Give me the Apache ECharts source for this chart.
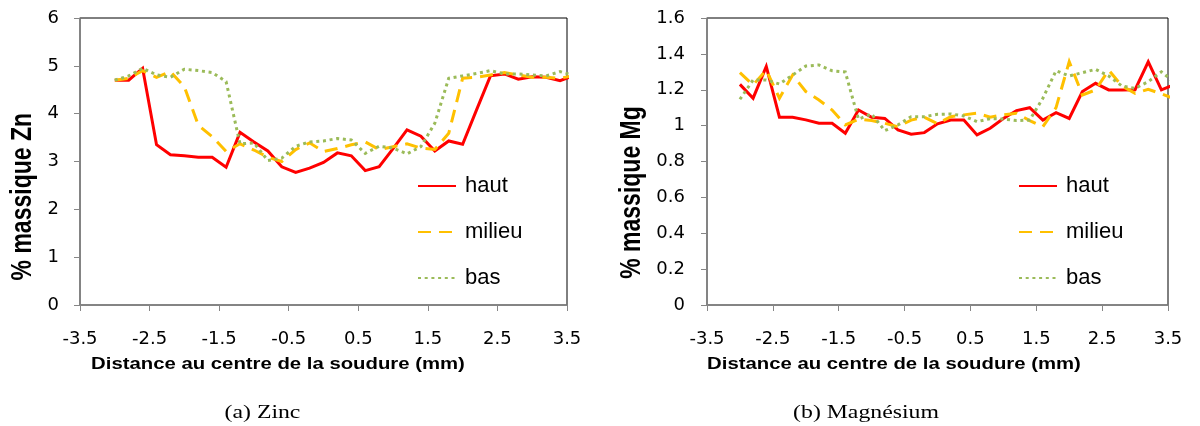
<!DOCTYPE html>
<html>
<head>
<meta charset="utf-8">
<script src="https://cdn.jsdelivr.net/npm/echarts@6/dist/echarts.min.js"></script>
<style>
html,body{margin:0;padding:0;background:#fff;}
#c{width:1200px;height:426px;}
</style>
</head>
<body>
<div id="c"></div>
<script>
// Distance au centre de la soudure (mm)
const distances = [-3.0,-2.8,-2.6,-2.4,-2.2,-2.0,-1.8,-1.6,-1.4,-1.2,-1.0,-0.8,-0.6,-0.4,-0.2,0.0,
                   0.2,0.4,0.6,0.8,1.0,1.2,1.4,1.6,1.8,2.0,2.2,2.4,2.6,2.8,3.0,3.2,3.4,3.6];
const xTicks = [-3.5,-2.5,-1.5,-0.5,0.5,1.5,2.5,3.5];
const seriesNames = ['haut','milieu','bas'];

// % massique Zn
const znHaut   = [4.70,4.70,4.95,3.35,3.14,3.12,3.09,3.09,2.88,3.61,3.41,3.22,2.89,2.77,2.86,2.98,
                  3.18,3.12,2.81,2.89,3.27,3.66,3.53,3.22,3.43,3.36,4.08,4.79,4.83,4.72,4.77,4.76,4.69,4.80];
const znMilieu = [4.70,4.74,4.90,4.76,4.88,4.56,3.76,3.52,3.21,3.37,3.24,3.09,3.00,3.25,3.39,3.21,
                  3.27,3.35,3.41,3.25,3.31,3.37,3.28,3.25,3.59,4.74,4.76,4.81,4.86,4.81,4.76,4.76,4.74,4.80];
const znBas    = [4.70,4.79,4.95,4.81,4.76,4.93,4.90,4.86,4.67,3.37,3.39,3.02,3.07,3.32,3.41,3.43,
                  3.48,3.45,3.17,3.32,3.28,3.16,3.31,3.80,4.74,4.79,4.84,4.90,4.83,4.83,4.81,4.79,4.88,4.80];

// % massique Mg
const mgHaut   = [1.230,1.153,1.330,1.047,1.047,1.032,1.013,1.013,0.958,1.087,1.047,1.040,0.976,0.952,0.961,1.010,
                  1.031,1.031,0.948,0.985,1.040,1.084,1.100,1.031,1.072,1.040,1.190,1.236,1.199,1.199,1.200,1.356,1.199,1.230];
const mgMilieu = [1.295,1.227,1.310,1.153,1.282,1.190,1.143,1.087,1.004,1.036,1.028,1.013,0.994,1.031,1.047,1.010,
                  1.050,1.060,1.069,1.047,1.060,1.069,1.028,0.994,1.100,1.357,1.171,1.199,1.310,1.221,1.180,1.203,1.177,1.150];
const mgBas    = [1.147,1.254,1.254,1.232,1.282,1.332,1.338,1.306,1.299,1.036,1.065,0.972,1.004,1.050,1.050,1.063,
                  1.065,1.054,1.022,1.039,1.037,1.028,1.031,1.153,1.306,1.277,1.295,1.314,1.277,1.221,1.208,1.245,1.300,1.240];

const colors = ['#FF0000','#FFC000','#9BBB59'];
const dashes = ['solid',[13,8],[3,3.7]];

function pairs(vals){ return distances.map((d,i)=>[d, vals[i]]); }

const chartData = [[znHaut,znMilieu,znBas],[mgHaut,mgMilieu,mgBas]];

const series = [];
chartData.forEach((set,ci)=>{
  set.forEach((vals,si)=>{
    series.push({
      type:'line', name:seriesNames[si], xAxisIndex:ci, yAxisIndex:ci,
      data:pairs(vals), symbol:'none', showSymbol:false, clip:true, smooth:false,
      lineStyle:{color:colors[si], width:3, type:dashes[si], cap:'butt', join:'miter'},
      itemStyle:{color:colors[si]},
      emphasis:{disabled:true}
    });
  });
});

const grids = [
  {left:80, top:18, width:487, height:287},
  {left:707, top:18, width:461, height:287}
].map(g=>Object.assign(g,{show:true, borderColor:'#000', borderWidth:1, backgroundColor:'#fff', containLabel:false, outerBoundsMode:'none'}));

const axisGray = '#868686';
const xAxes = [0,1].map(i=>({
  gridIndex:i, type:'value', min:-3.5, max:3.5,
  axisLine:{show:true, onZero:false, lineStyle:{color:axisGray, width:1.5}},
  axisTick:{show:true, length:6, customValues:xTicks, lineStyle:{color:axisGray, width:1}},
  axisLabel:{customValues:xTicks, margin:25, fontFamily:'DejaVu Sans', fontSize:18, color:'#000'},
  splitLine:{show:false}
}));
const yAxes = [
  {gridIndex:0, type:'value', min:0, max:6, interval:1},
  {gridIndex:1, type:'value', min:0, max:1.6, interval:0.2}
].map((a,i)=>Object.assign(a,{
  axisLine:{show:true, onZero:false, lineStyle:{color:axisGray, width:1.5}},
  axisTick:{show:true, length:6, lineStyle:{color:axisGray, width:1}},
  axisLabel:{margin:i===0?21:22, fontFamily:'DejaVu Sans', fontSize:18, color:'#000'},
  splitLine:{show:false}
}));

const legendBase = {
  orient:'vertical', itemWidth:38, itemHeight:22, itemGap:24, selectedMode:false,
  data:seriesNames,
  itemStyle:{opacity:0, borderWidth:0},
  textStyle:{fontFamily:'Liberation Sans', fontSize:22, color:'#000', lineHeight:22, padding:[0,0,0,4]}
};
const legends = [
  Object.assign({}, legendBase, {left:412, top:170}),
  Object.assign({}, legendBase, {left:1013, top:170})
];

function txt(x,y,text,opts){
  return Object.assign({type:'text', x:x, y:y, silent:true,
    style:Object.assign({text:text, fill:'#000', textAlign:'center', textVerticalAlign:'middle', align:'center', verticalAlign:'middle'}, opts.style)},
    opts.el||{});
}

const graphics = [
  txt(278,365,'Distance au centre de la soudure (mm)',{el:{scaleX:1.27},style:{fontFamily:'Liberation Sans',fontWeight:'bold',fontSize:16}}),
  txt(894,365,'Distance au centre de la soudure (mm)',{el:{scaleX:1.27},style:{fontFamily:'Liberation Sans',fontWeight:'bold',fontSize:16}}),
  txt(23,196.7,'% massique Zn',{el:{rotation:Math.PI/2, scaleY:1.27},style:{fontFamily:'Liberation Sans',fontWeight:'bold',fontSize:23}}),
  txt(632,192.5,'% massique Mg',{el:{rotation:Math.PI/2, scaleY:1.27},style:{fontFamily:'Liberation Sans',fontWeight:'bold',fontSize:23}}),
  txt(262.5,413,'(a) Zinc',{el:{scaleX:1.25},style:{fontFamily:'Liberation Serif',fontSize:19}}),
  txt(866,413,'(b) Magnésium',{el:{scaleX:1.25},style:{fontFamily:'Liberation Serif',fontSize:19}})
];

const chart = echarts.init(document.getElementById('c'), null, {renderer:'canvas'});
chart.setOption({
  backgroundColor:'#fff',
  animation:false,
  grid:grids,
  xAxis:xAxes,
  yAxis:yAxes,
  legend:legends,
  series:series,
  graphic:graphics
});
</script>
</body>
</html>
